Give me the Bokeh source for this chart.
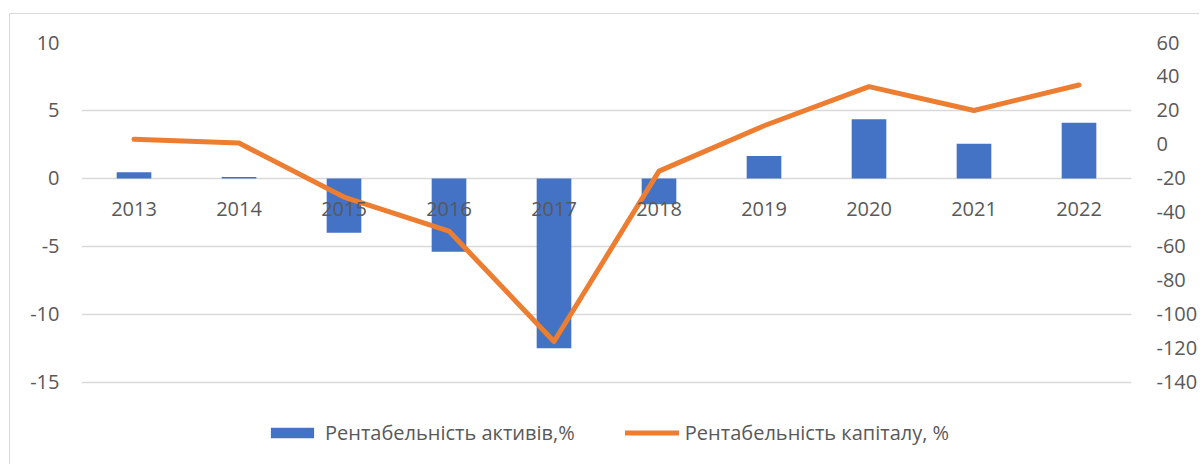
from bokeh.plotting import figure
from bokeh.models import (Range1d, LinearAxis, FactorRange, Legend, LegendItem,
                          ColumnDataSource, FixedTicker, CustomJSTickFormatter)
from bokeh.core.properties import value
from bokeh.embed import file_html
from bokeh.resources import INLINE

years = ["2013", "2014", "2015", "2016", "2017", "2018", "2019", "2020", "2021", "2022"]
roa = [0.45, 0.1, -4.0, -5.4, -12.5, -1.9, 1.65, 4.35, 2.55, 4.1]
roe = [3.0, 0.8, -31.0, -51.0, -116.0, -15.7, 11.0, 34.0, 20.0, 35.0]
left_ticks = [-15, -10, -5, 0, 5, 10]
right_ticks = [-140, -120, -100, -80, -60, -40, -20, 0, 20, 40, 60]
label_roa = "Рентабельність активів,%"
label_roe = "Рентабельність капіталу, %"

FONT = "Open Sans"
TXT = "#595959"
FS = "20px"

src = ColumnDataSource(dict(x=years, roa=roa, roe=roe, zero=[0] * len(years)))

# frame extends to the bottom of the figure so the legend can sit inside it;
# the extra space below -15 carries no ticks or grid lines
p = figure(width=1190, height=451, x_range=FactorRange(*years, range_padding=0),
           y_range=Range1d(-21.13, 10), output_backend="svg", toolbar_location=None,
           min_border_left=71, min_border_right=66,
           min_border_top=28, min_border_bottom=0)
p.margin = (13, 0, 0, 9)
p.styles = {"border-left": "1px solid #D9D9D9", "border-top": "1px solid #D9D9D9"}
p.outline_line_color = None
p.xaxis.visible = False
p.extra_y_ranges = {"roe": Range1d(-189.0, 60)}

bars = p.vbar(x="x", top="roa", bottom=0, width=0.33, source=src,
              fill_color="#4472C4", line_color=None)
line = p.line(x="x", y="roe", source=src, y_range_name="roe",
              line_color="#ED7D31", line_width=5, line_cap="round", line_join="round")

p.text(x="x", y="zero", text="x", source=src, text_font=value(FONT),
       text_font_size=FS, text_color=TXT, text_align="center",
       text_baseline="middle", y_offset=31)

fmt = CustomJSTickFormatter(code="return tick.toString();")
yl = p.yaxis[0]
yl.ticker = FixedTicker(ticks=left_ticks)
yr = LinearAxis(y_range_name="roe", ticker=FixedTicker(ticks=right_ticks))
p.add_layout(yr, "right")
for ax, so in ((yl, 16), (yr, 19)):
    ax.formatter = fmt
    ax.axis_line_color = None
    ax.major_tick_line_color = None
    ax.minor_tick_line_color = None
    ax.major_label_text_font = FONT
    ax.major_label_text_font_size = FS
    ax.major_label_text_color = TXT
    ax.major_label_standoff = so

p.xgrid.visible = False
p.ygrid.ticker = FixedTicker(ticks=left_ticks)
p.ygrid.grid_line_color = "#D9D9D9"
p.ygrid.grid_line_width = 1.5

legend = Legend(items=[LegendItem(label=label_roa, renderers=[bars]),
                       LegendItem(label=label_roe, renderers=[line])],
                orientation="horizontal", location=(184, 19),
                label_text_font=FONT, label_text_font_size=FS, label_text_color=TXT,
                glyph_width=54, glyph_height=13, label_standoff=6, spacing=50,
                border_line_color=None, background_fill_alpha=0, margin=0, padding=0)
p.add_layout(legend)

open("out.html", "w").write(file_html(p, INLINE))
